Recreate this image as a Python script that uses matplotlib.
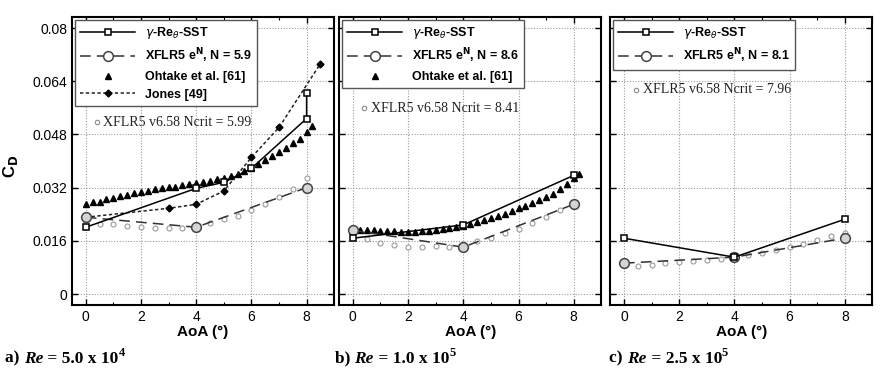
import matplotlib
matplotlib.use('Agg')
import matplotlib.pyplot as plt
from matplotlib.ticker import MultipleLocator

plt.rcParams['font.family'] = ['Liberation Sans', 'DejaVu Sans']

# ---- data ----
# panel a) Re = 5.0e4
a_sst_x = [0, 4, 5, 6, 8, 8]
a_sst_y = [0.0201, 0.0318, 0.0336, 0.0378, 0.0528, 0.0606]
a_en_x = [0, 4, 8]
a_en_y = [0.0231, 0.0201, 0.0320]
a_oht_x = [0, 0.25, 0.5, 0.75, 1, 1.25, 1.5, 1.75, 2, 2.25, 2.5, 2.75, 3, 3.25, 3.5, 3.75, 4,
           4.25, 4.5, 4.75, 5, 5.25, 5.5, 5.75, 6, 6.25, 6.5, 6.75, 7, 7.25, 7.5, 7.75, 8, 8.2]
a_oht_y = [0.0272, 0.0278, 0.0277, 0.0285, 0.0288, 0.0296, 0.0298, 0.0303, 0.0308, 0.0310,
           0.0315, 0.0318, 0.0322, 0.0321, 0.0327, 0.0330, 0.0334, 0.0336, 0.0341, 0.0345,
           0.0350, 0.0356, 0.0362, 0.0370, 0.0380, 0.0392, 0.0404, 0.0416, 0.0428, 0.0440,
           0.0453, 0.0467, 0.0487, 0.0507]
a_jones_x = [0, 3, 4, 5, 6, 7, 8.5]
a_jones_y = [0.0231, 0.0258, 0.0270, 0.0310, 0.0411, 0.0501, 0.0693]
a_xf_x = [0, 0.5, 1, 1.5, 2, 2.5, 3, 3.5, 4, 4.5, 5, 5.5, 6, 6.5, 7, 7.5, 8]
a_xf_y = [0.0216, 0.0211, 0.0211, 0.0204, 0.0201, 0.0198, 0.0198, 0.0200, 0.0201, 0.0215,
          0.0225, 0.0236, 0.0252, 0.0270, 0.0291, 0.0316, 0.0348]

# panel b) Re = 1.0e5
b_sst_x = [0, 4, 8]
b_sst_y = [0.0168, 0.0208, 0.0357]
b_en_x = [0, 4, 8]
b_en_y = [0.0192, 0.0141, 0.0270]
b_oht_x = [0, 0.25, 0.5, 0.75, 1, 1.25, 1.5, 1.75, 2, 2.25, 2.5, 2.75, 3, 3.25, 3.5, 3.75, 4,
           4.25, 4.5, 4.75, 5, 5.25, 5.5, 5.75, 6, 6.25, 6.5, 6.75, 7, 7.25, 7.5, 7.75, 8, 8.2]
b_oht_y = [0.0195, 0.0194, 0.0193, 0.0192, 0.0191, 0.0190, 0.0189, 0.0188, 0.0187, 0.0188,
           0.0189, 0.0191, 0.0194, 0.0196, 0.0199, 0.0202, 0.0206, 0.0211, 0.0216, 0.0222,
           0.0228, 0.0235, 0.0242, 0.0250, 0.0258, 0.0266, 0.0274, 0.0282, 0.0291, 0.0302,
           0.0315, 0.0330, 0.0350, 0.0360]
b_xf_x = [0, 0.5, 1, 1.5, 2, 2.5, 3, 3.5, 4, 4.5, 5, 5.5, 6, 6.5, 7, 7.5, 8]
b_xf_y = [0.0170, 0.0165, 0.0153, 0.0147, 0.0141, 0.0141, 0.0144, 0.0142, 0.0141, 0.0159,
          0.0168, 0.0183, 0.0195, 0.0213, 0.0231, 0.0252, 0.0272]

# panel c) Re = 2.5e5
c_sst_x = [0, 4, 8]
c_sst_y = [0.0168, 0.0111, 0.0225]
c_en_x = [0, 4, 8]
c_en_y = [0.0093, 0.0111, 0.0168]
c_xf_x = [0, 0.5, 1, 1.5, 2, 2.5, 3, 3.5, 4, 4.5, 5, 5.5, 6, 6.5, 7, 7.5, 8]
c_xf_y = [0.0092, 0.0084, 0.0087, 0.0093, 0.0096, 0.0099, 0.0102, 0.0105, 0.0111, 0.0117,
          0.0123, 0.0132, 0.0141, 0.0150, 0.0162, 0.0174, 0.0183]

en_labels = ['5.9', '8.6', '8.1']
ncrit_labels = ['5.99', '8.41', '7.96']
captions = [('a', '5.0', '4'), ('b', '1.0', '5'), ('c', '2.5', '5')]
yticks = [0, 0.016, 0.032, 0.048, 0.064, 0.08]
xticks = [0, 2, 4, 6, 8]

fig = plt.figure(figsize=(8.83, 3.72), dpi=100)
lefts = [0.0815, 0.384, 0.691]
axes = [fig.add_axes([l, 0.180, 0.297, 0.774]) for l in lefts]

panels = [
    (a_sst_x, a_sst_y, a_en_x, a_en_y, a_oht_x, a_oht_y, a_xf_x, a_xf_y),
    (b_sst_x, b_sst_y, b_en_x, b_en_y, b_oht_x, b_oht_y, b_xf_x, b_xf_y),
    (c_sst_x, c_sst_y, c_en_x, c_en_y, None, None, c_xf_x, c_xf_y),
]
note_pos = [(0.095, 0.635), (0.095, 0.684), (0.10, 0.747)]

for i, ax in enumerate(axes):
    sx, sy, ex, ey, ox, oy, fx, fy = panels[i]
    # small XFLR5 v6.58 points (not in legend)
    ax.plot(fx, fy, 'o', ms=3.6, mfc='white', mec='#9a9a9a', mew=0.8, zorder=2)
    ax.plot(sx, sy, '-', color='black', lw=1.1, marker='s', ms=5, mfc='white',
            mec='black', mew=1.1, label=r'$\gamma$-Re$_\theta$-SST', zorder=5)
    ax.plot(ex, ey, color='#333333', lw=1.1, dashes=(7, 4), marker='o', ms=7,
            mfc='#d4d4d4', mec='#444444', mew=1.1,
            label='XFLR5 e$^{\\mathbf{N}}$, N = ' + en_labels[i], zorder=4)
    if ox is not None:
        ax.plot(ox, oy, '^', color='black', ms=4.5, ls='none',
                label='Ohtake et al. [61]', zorder=3)
    if i == 0:
        ax.plot(a_jones_x, a_jones_y, color='#222222', lw=1.1, dashes=(2.2, 1.6),
                marker='D', ms=3.5, mfc='black', mec='black', label='Jones [49]', zorder=3)

    ax.set_xlim(-0.5, 9.0)
    ax.set_ylim(-0.0033, 0.0833)
    ax.set_xticks(xticks)
    ax.set_yticks(yticks)
    ax.xaxis.set_minor_locator(MultipleLocator(1))
    ax.tick_params(which='both', direction='in', top=True, right=True, labelsize=10)
    ax.tick_params(which='major', length=4, width=1)
    ax.tick_params(which='minor', length=2, width=0.8)
    if i == 0:
        ax.set_yticklabels(['0', '0.016', '0.032', '0.048', '0.064', '0.08'])
        ax.set_ylabel(r'C$_\mathbf{D}$', fontsize=12, fontweight='bold')
        ax.yaxis.set_label_coords(-0.20, 0.48)
    else:
        ax.set_yticklabels([])
    ax.grid(True, ls=(0, (1, 1.5)), color='#9a9a9a', lw=0.8)
    for s in ax.spines.values():
        s.set_linewidth(1.5)
    ax.set_xlabel('AoA (°)', fontsize=11, fontweight='bold', labelpad=1)

    leg = ax.legend(loc='upper left', fancybox=False, framealpha=1, edgecolor='#555555',
                    prop={'weight': 'bold', 'size': 9}, handlelength=4.4,
                    handletextpad=0.8, borderaxespad=0.25, labelspacing=0.45)
    leg.get_frame().set_linewidth(1.0)
    leg.legend_handles[1].set_markerfacecolor('white')

    nx, ny = note_pos[i]
    ax.plot([nx], [ny], 'o', ms=3.2, mfc='white', mec='#8a8a8a', mew=0.8,
            transform=ax.transAxes, clip_on=False)
    ax.text(nx + 0.025, ny, 'XFLR5 v6.58 Ncrit = ' + ncrit_labels[i],
            transform=ax.transAxes, fontsize=10, family='Liberation Serif',
            va='center', ha='left', color='#222222')

# captions below the panels: "a) Re = 5.0 x 10^4"
cap_x = [0.006, 0.379, 0.690]
serif = 'Liberation Serif'
for (letter, mant, exp), cx in zip(captions, cap_x):
    t1 = fig.text(cx, 0.025, letter + ') ', fontsize=12.5, family=serif,
                  fontweight='bold', va='baseline')
    t2 = axes[0].annotate('Re', xy=(1, 0), xycoords=t1, va='bottom', fontsize=12.5,
                          family=serif, fontweight='bold', style='italic',
                          annotation_clip=False)
    t3 = axes[0].annotate(' = ' + mant + ' x 10', xy=(1, 0), xycoords=t2, va='bottom',
                          fontsize=12.5, family=serif, fontweight='bold',
                          annotation_clip=False)
    axes[0].annotate(exp, xy=(1, 0.45), xycoords=t3, va='bottom', fontsize=9,
                     family=serif, fontweight='bold', annotation_clip=False)

plt.savefig('out.png', dpi=100)
plt.close()
